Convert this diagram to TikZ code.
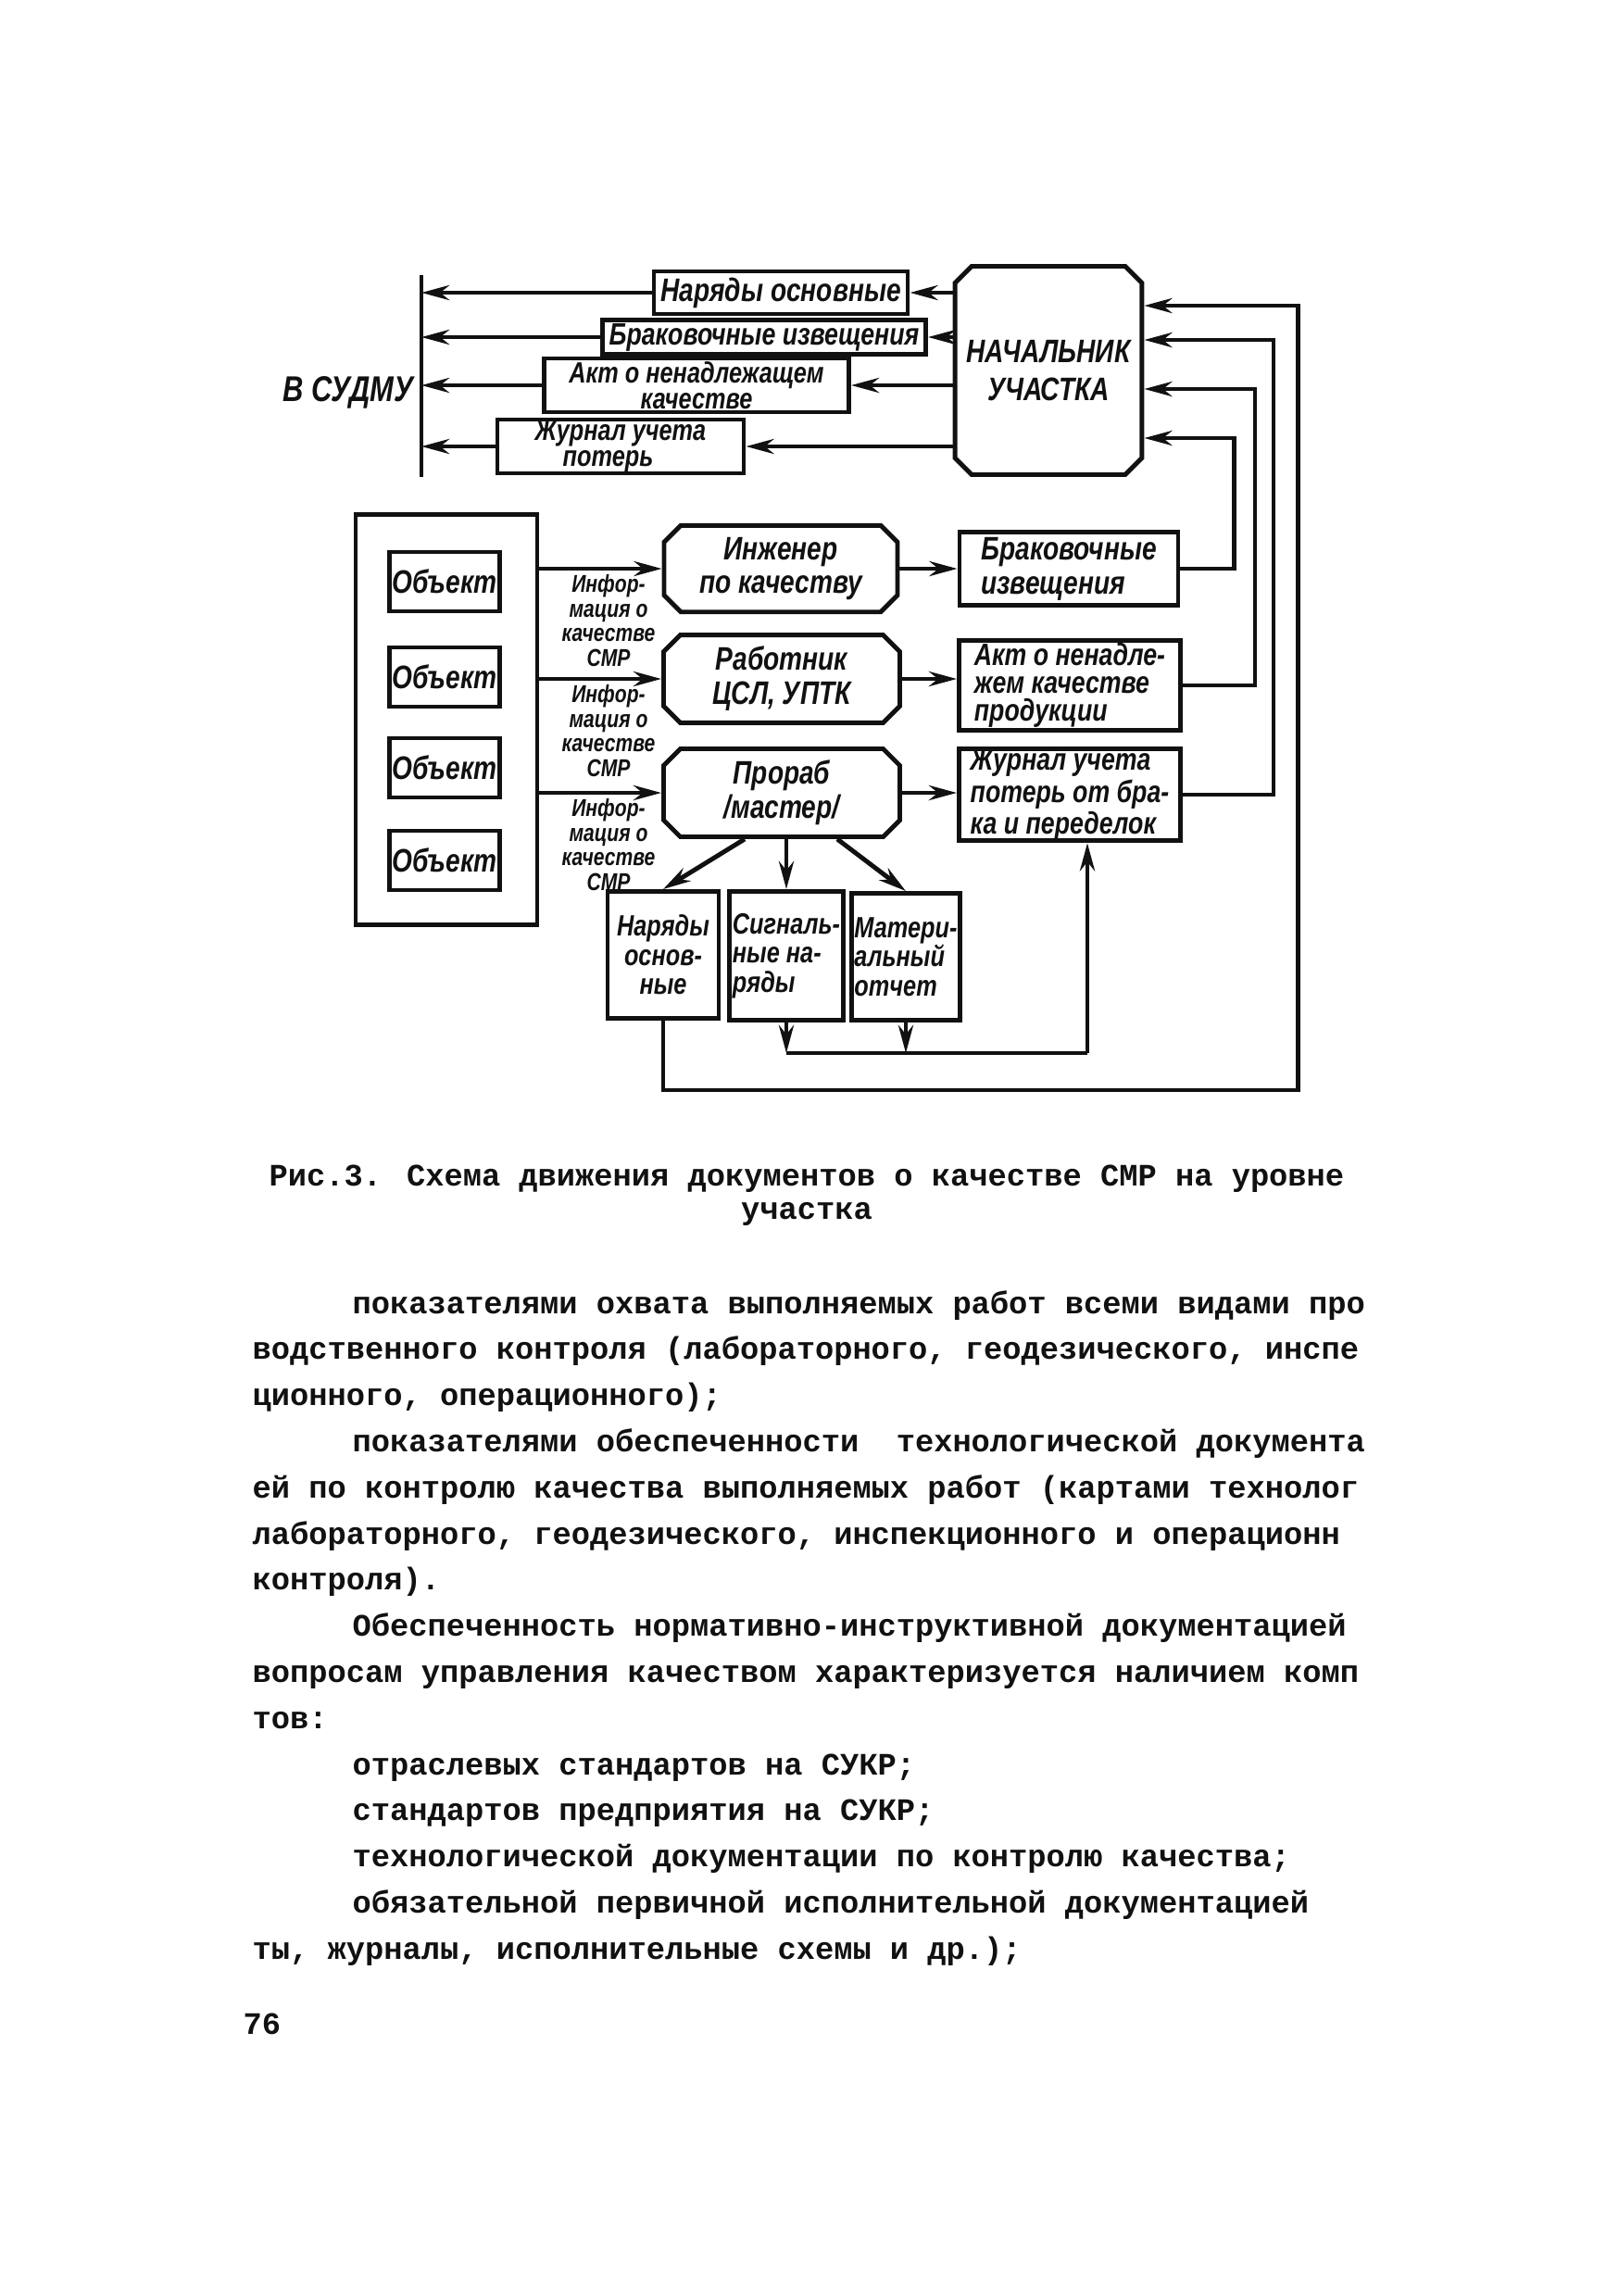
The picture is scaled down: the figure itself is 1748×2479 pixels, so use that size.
\documentclass[tikz,border=0pt]{standalone}
\usepackage{fontspec}
\usepackage{tikz}
\usetikzlibrary{arrows.meta,positioning,calc,shapes.misc}
\newfontfamily\draftfont[FakeStretch=0.8]{Liberation Sans}
\newfontfamily\typefont{Liberation Mono}
\definecolor{ink}{HTML}{111111}
\tikzset{
  sz/.style 2 args={minimum width=#1,minimum height=#2},
  doc/.style={draw=ink,line width=1.4pt,inner sep=1pt,align=left,fill=white,text=ink,
    font=\draftfont\bfseries\itshape\fontsize{10}{10.5}\selectfont},
  tight/.style={inner ysep=0pt,font=\draftfont\bfseries\itshape\fontsize{9.5}{8.6}\selectfont},
  tighter/.style={inner ysep=0pt,font=\draftfont\bfseries\itshape\fontsize{9}{8}\selectfont},
  small/.style={inner xsep=0.3mm,font=\draftfont\bfseries\itshape\fontsize{9}{9}\selectfont},
  chief/.style={doc,chamfered rectangle,chamfered rectangle xsep=0.9mm,
    chamfered rectangle ysep=0.9mm,align=center},
  arr/.style={-{Stealth[length=3mm,width=1.6mm]},line width=1.4pt,draw=ink},
  wire/.style={line width=1.4pt,draw=ink},
  info/.style={align=center,inner sep=0pt,text=ink,
    font=\draftfont\bfseries\itshape\fontsize{7.5}{7.6}\selectfont},
  typed/.style={anchor=base west,inner sep=0pt,text=ink,
    font=\typefont\bfseries\fontsize{9.6}{11}\selectfont}
}

\begin{document}
\begin{tikzpicture}[x=0.1mm,y=-0.1mm]
\path[use as bounding box,fill=white] (0,0) rectangle (1748,2479);

% upper part
\node[chief,sz={19.5mm}{22.5mm},font=\draftfont\bfseries\itshape\fontsize{10}{11.5}\selectfont]
  (nach) at (1132,400) {НАЧАЛЬНИК\\УЧАСТКА};
\node[doc,sz={27.4mm}{4.6mm}] (nar1) at (843,316) {Наряды основные};
\node[doc,tight,sz={34.9mm}{3.7mm}] (brak1) at (825,364) {Браковочные извещения};
\node[doc,tighter,sz={32.9mm}{5.8mm},align=center] (akt1) at (752,416) {Акт о ненадлежащем\\качестве};
\node[doc,tighter,sz={26.6mm}{5.8mm}] (zhur1) at (670,482) {Журнал учета\\\hspace*{3mm}потерь};

\coordinate (bustop) at (455,297);
\coordinate (busbot) at (455,515);
\draw[wire] (bustop) -- (busbot);
\node[text=ink,font=\draftfont\bfseries\itshape\fontsize{11}{11}\selectfont] (vsudmu) at (376,424) {В СУДМУ};

\foreach \n in {nar1,brak1,akt1,zhur1}{
  \draw[arr] (\n.west) -- (\n.west -| bustop);
  \draw[arr] (\n.east -| nach.west) -- (\n.east);
}

% middle part
\node[draw=ink,line width=1.4pt,sz={19.6mm}{44.3mm}] (site) at (482,777) {};
\foreach \i/\y in {1/628,2/731,3/829,4/929}
  \node[doc,sz={11.6mm}{6.4mm},align=center] (obj\i) at (480,\y) {Объект};

\node[chief,sz={25.2mm}{8mm}] (ing) at (843,614) {Инженер\\по качеству};
\node[chief,sz={25.5mm}{8.5mm}] (rab) at (844,733) {Работник\\ЦСЛ, УПТК};
\node[chief,sz={25.5mm}{8.7mm}] (pror) at (844,856) {Прораб\\/мастер/};
\node[doc,sz={23.6mm}{7.9mm}] (brak2) at (1154,614) {Браковочные\\извещения};
\node[doc,tight,sz={23.9mm}{9.7mm}] (akt2) at (1155,740) {Акт о ненадле-\\жем качестве\\продукции};
\node[doc,tight,sz={23.9mm}{9.6mm}] (zhur2) at (1155,858) {Журнал учета\\потерь от бра-\\ка и переделок};

\foreach \n/\y in {1/670,2/789,3/912}
  \node[info] (info\n) at (657,\y) {Инфор-\\мация о\\качестве\\СМР};

\foreach \a/\b in {ing/brak2,rab/akt2,pror/zhur2}{
  \draw[arr] (\a.west -| site.east) -- (\a.west);
  \draw[arr] (\a.east) -- (\a.east -| \b.west);
}

\coordinate (in1) at ($(nach.east)+(0,-70)$);
\coordinate (in2) at ($(nach.east)+(0,-33)$);
\coordinate (in3) at ($(nach.east)+(0,20)$);
\coordinate (in4) at ($(nach.east)+(0,73)$);
\draw[arr] (brak2.east) -- ++(58,0) |- (in4);
\draw[arr] (akt2.east) -- ++(78,0) |- (in3);
\draw[arr] (zhur2.east) -- ++(98,0) |- (in2);

% lower part
\node[doc,small,sz={12mm}{13.7mm},align=center] (nar2) at (716,1031) {Наряды\\основ-\\ные};
\node[doc,small,sz={12mm}{13.9mm}] (sig) at (849,1032) {Сигналь-\\ные на-\\ряды};
\node[doc,small,sz={11.5mm}{13.7mm}] (mat) at (978,1033) {Матери-\\альный\\отчет};

\draw[arr] ($(pror.south)+(-40,0)$) -- (nar2.north);
\draw[arr] (pror.south -| sig.north) -- (sig.north);
\draw[arr] ($(pror.south)+(60,0)$) -- (mat.north);

\coordinate (jn) at (1174,1137);
\draw[arr] (sig.south) -- (sig.south |- jn);
\draw[arr] (mat.south) -- (mat.south |- jn);
\draw[wire] (sig.south |- jn) -- (jn);
\draw[arr] (jn) -- (jn |- zhur2.south);
\draw[arr] (nar2.south) -- ++(0,75) -| ($(in1)+(166,0)$) -- (in1);

% caption and page text
\node[typed,anchor=base] (cap1) at (871,1280) {Рис.3. Схема движения документов о качестве СМР на уровне};
\node[typed,anchor=base] (cap2) at (871,1316) {участка};

\foreach \i/\x/\txt in {
  0/380/{показателями охвата выполняемых работ всеми видами про},
  1/272/{водственного контроля (лабораторного, геодезического, инспе},
  2/272/{ционного, операционного);},
  3/380/{показателями обеспеченности~~технологической документа},
  4/272/{ей по контролю качества выполняемых работ (картами технолог},
  5/272/{лабораторного, геодезического, инспекционного и операционн},
  6/272/{контроля).},
  7/380/{Обеспеченность нормативно-инструктивной документацией},
  8/272/{вопросам управления качеством характеризуется наличием комп},
  9/272/{тов:},
  10/380/{отраслевых стандартов на СУКР;},
  11/380/{стандартов предприятия на СУКР;},
  12/380/{технологической документации по контролю качества;},
  13/380/{обязательной первичной исполнительной документацией},
  14/272/{ты, журналы, исполнительные схемы и др.);}}
  \node[typed] (line\i) at (\x,{1418+49.8*\i}) {\txt};

\node[typed] (pagenum) at (262,2196) {76};
\end{tikzpicture}
\end{document}
